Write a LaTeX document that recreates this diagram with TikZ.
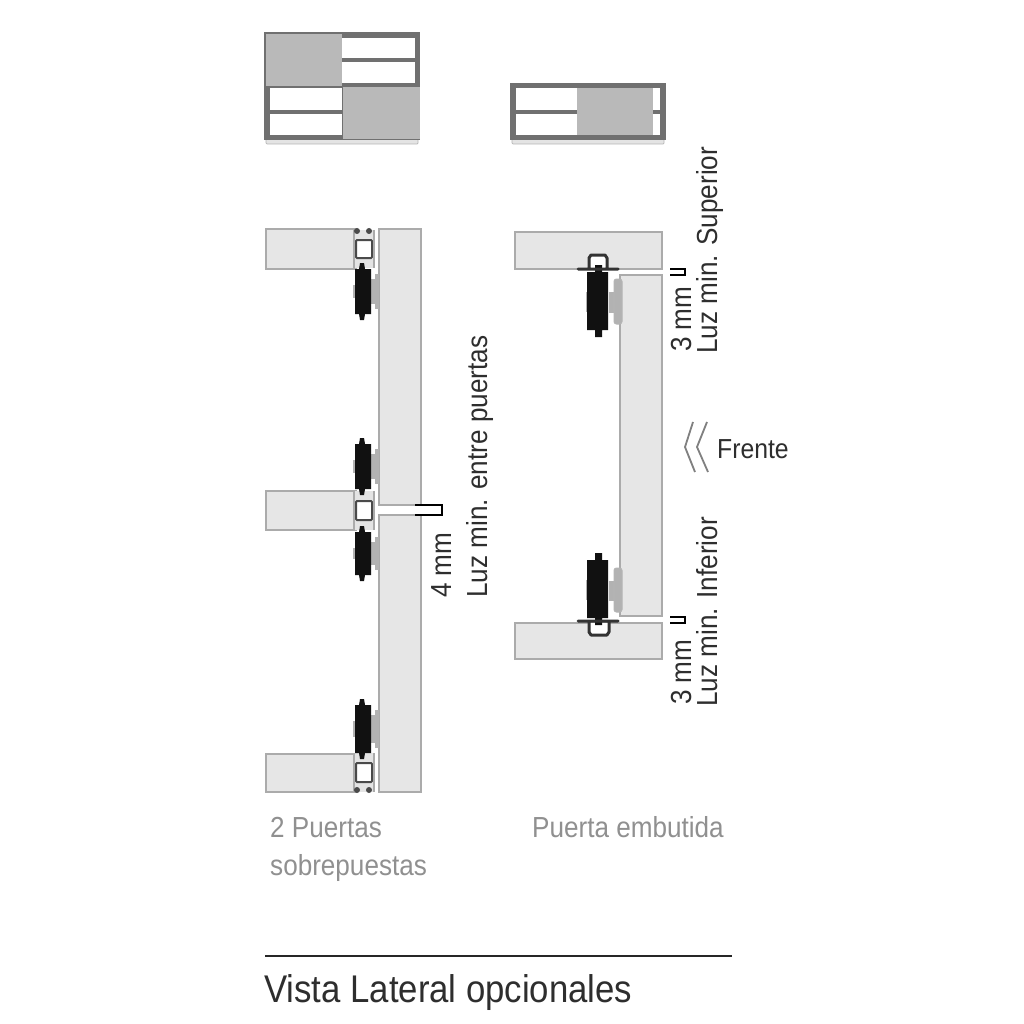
\documentclass[tikz,border=0pt]{standalone}
\usepackage{fontspec}
\setmainfont[FakeStretch=0.9]{Liberation Sans}
\tikzset{
  panel/.style={fill=panelfill,draw=panelline,line width=1.3pt},
  frameb/.style={fill=framedark,draw=none},
  greyb/.style={fill=greypanel,draw=none},
  whiteb/.style={fill=white,draw=none},
  shade/.style={fill=shadefill,draw=shadeline,line width=.7pt,rounded corners=1pt},
  gapmark/.style={draw=black,line width=1.7pt},
  caption/.style={text=captiongrey,font=\fontsize{29}{29}\selectfont,anchor=base west,inner sep=0pt},
  dim/.style={text=dimtext,font=\fontsize{29}{29}\selectfont,rotate=90,anchor=base west,inner sep=0pt},
  railline/.style={draw=raildark,line width=2pt},
  hook/.style={draw=hookdark,line width=3pt,line join=round,line cap=round},
  chev/.style={draw=chevron,line width=1.8pt}
}
\definecolor{panelfill}{HTML}{E6E6E6}
\definecolor{panelline}{HTML}{ABABAB}
\definecolor{framedark}{HTML}{707070}
\definecolor{greypanel}{HTML}{B9B9B9}
\definecolor{shadefill}{HTML}{E4E4E4}
\definecolor{shadeline}{HTML}{B5B5B5}
\definecolor{captiongrey}{HTML}{909090}
\definecolor{dimtext}{HTML}{2E2E2E}
\definecolor{raildark}{HTML}{4A4A4A}
\definecolor{hookdark}{HTML}{333333}
\definecolor{chevron}{HTML}{808080}
\definecolor{lugfill}{HTML}{B2B2B2}
\definecolor{wheel}{HTML}{111111}
% wheel, left door: #1 = top of black body, #2 = bottom of black body
\newcommand{\wheelL}[2]{%
  \fill[lugfill] (353,{#1+16}) rectangle (356,{#2-16});
  \fill[lugfill] (371,{#1+10}) rectangle (375,{#2-10});
  \fill[lugfill] (374.5,{#1+5}) rectangle (379,{#2-5});
  \fill[wheel] (355,#1) -- (359,#1) -- (360,{#1-6}) -- (364,{#1-6}) -- (365,#1) -- (371,#1)
     -- (371,#2) -- (365,#2) -- (364,{#2+6}) -- (360,{#2+6}) -- (359,#2) -- (355,#2) -- cycle;
}
% rail, left door: #1 top of white window, #2 bottom of white window
\newcommand{\railL}[2]{%
  \fill[shadefill] (354,{#1-10}) rectangle (374,{#2+10});
  \fill[white] (356,#1) rectangle (372,#2);
  \draw[railline,rounded corners=1pt] (356,#1) rectangle (372,#2);
  \draw[panelline,line width=1.3pt] (354,{#1-10}) -- (354,{#2+10}) (374,{#1-10}) -- (374,{#2+10});
}
% wheel, right door: #1 top of body, #2 bottom of body, #3 plate top, #4 plate bottom
\newcommand{\wheelR}[4]{%
  \fill[lugfill] (585.5,{#1+20}) rectangle (588,{#2-18});
  \fill[wheel] (587,#1) -- (595,#1) -- (595,{#1-7}) -- (602,{#1-7}) -- (602,#1) -- (608,#1)
     -- (608,#2) -- (602,#2) -- (602,{#2+7}) -- (595,{#2+7}) -- (595,#2) -- (587,#2) -- cycle;
  \fill[lugfill] (609,{#3+13}) rectangle (616,{#4-11});
  \fill[lugfill,draw=shadeline,line width=1pt,rounded corners=2.5pt] (614,#3) rectangle (622,#4);
}
\begin{document}
\begin{tikzpicture}[x=1pt,y=-1pt]
\useasboundingbox (0,0) rectangle (1024,1024);
\fill[white] (0,0) rectangle (1024,1024);

% --- top left elevation
\draw[shade] (266,138) rectangle (418,144);
\fill[frameb] (264,32) rectangle (420,140);
\fill[whiteb] (342,38) rectangle (415,58);
\fill[whiteb] (342,62) rectangle (415,83);
\fill[whiteb] (270,88) rectangle (342,110);
\fill[whiteb] (270,114) rectangle (342,135);
\fill[greyb] (266,34) rectangle (342,86);
\fill[greyb] (343,87) rectangle (420,139);

% --- top right elevation
\draw[shade] (512,138) rectangle (664,144);
\fill[frameb] (510,83) rectangle (666,140);
\fill[whiteb] (516,88) rectangle (577,110);
\fill[whiteb] (516,114) rectangle (577,135);
\fill[whiteb] (653,88) rectangle (660,110);
\fill[whiteb] (653,114) rectangle (660,135);
\fill[greyb] (577,88) rectangle (653,135);

% --- left section
\draw[panel] (266,229) rectangle (356,269);
\draw[panel] (266,491) rectangle (356,530);
\draw[panel] (266,754) rectangle (356,792);
\draw[panel] (379,229) rectangle (421,505);
\draw[panel] (379,515) rectangle (421,792);
\railL{240}{258}
\railL{501}{520}
\railL{763}{782}
\foreach \px in {357,369}{
  \fill[raildark] (\px,231) circle (3);
  \fill[raildark] (\px,790) circle (3);
}
\wheelL{269}{314}
\wheelL{444}{489}
\wheelL{532}{575}
\wheelL{705}{753}
\draw[gapmark] (415,505) -- (442,505) -- (442,515) -- (415,515);

% --- right section
\draw[panel] (515,232) rectangle (662,269);
\draw[panel] (515,623) rectangle (662,659);
\draw[panel] (620,275) rectangle (662,616);
\fill[white] (589,256) rectangle (606,268);
\fill[white] (589,623) rectangle (608,634);
\wheelR{272}{330}{279}{324}
\wheelR{560}{618}{568}{612}
\draw[hook] (578,269) -- (618,269) (589,269) -- (589,258) -- (591,255) -- (605,255) -- (607,258) -- (607,269);
\draw[hook] (578,621) -- (618,621) (589,621) -- (589,632) -- (591,635) -- (607,635) -- (609,632) -- (609,621);
\draw[gapmark] (670,269) -- (685,269) -- (685,275) -- (670,275);
\draw[gapmark] (670,617) -- (685,617) -- (685,623) -- (670,623);

% --- front arrows
\draw[chev] (693,422) -- (685,447) -- (695,472);
\draw[chev] (707,422) -- (697,447) -- (708,472);

% --- labels
\node[dim] (gapA) at (451,598) {4 mm};
\node[dim] (gapB) at (487,598) {Luz min. entre puertas};
\node[dim] (supA) at (691,352) {3 mm};
\node[dim] (supB) at (717,354) {Luz min. Superior};
\node[dim] (infA) at (691,705) {3 mm};
\node[dim] (infB) at (717,707) {Luz min. Inferior};
\node[caption,text=dimtext,font=\fontsize{27.5}{27.5}\selectfont] (front) at (717,458) {Frente};
\node[caption] (capA) at (270,837) {2 Puertas};
\node[caption] (capB) at (270,875) {sobrepuestas};
\node[caption] (capC) at (532,837) {Puerta embutida};
\draw[draw=black!85,line width=1.5pt] (265,956) -- (732,956);
\node[anchor=base west,inner sep=0pt,text=dimtext,font=\fontsize{38.6}{38.6}\selectfont] (title) at (264,1002) {Vista Lateral opcionales};
\end{tikzpicture}
\end{document}
